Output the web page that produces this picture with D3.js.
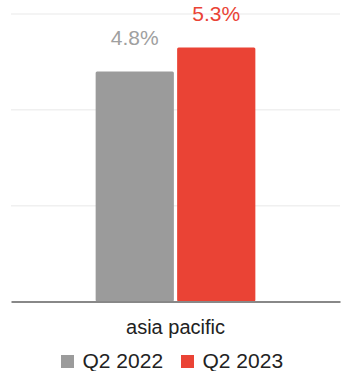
<!DOCTYPE html>
<html><head><meta charset="utf-8">
<script src="https://cdn.jsdelivr.net/npm/d3@7"></script>
<style>body{margin:0;background:#fff}svg{display:block;font-family:"Liberation Sans",Arial,sans-serif}</style>
</head><body><svg id="c" width="342" height="371"></svg>
<script>
const categories = ["asia pacific"];
const series = ["Q2 2022", "Q2 2023"];
const values2022 = [4.8];
const values2023 = [5.3];
const colors = ["#9b9b9b", "#ea4335"];
const labelColors = ["#a0a0a0", "#ea4335"];
const yTicks = [0, 2, 4, 6];

const svg = d3.select("#c");
const m = {l: 11, r: 2, t: 14, b: 70};
const W = 342, H = 371;
const x0 = d3.scaleBand().domain(categories).range([m.l, W - m.r]).paddingInner(0).paddingOuter(0.53);
const x1 = d3.scaleBand().domain(series).range([0, x0.bandwidth()]).paddingInner(0.04);
const y = d3.scaleLinear().domain([0, 6]).range([301.5, m.t]);

const g = svg.append("g");
g.selectAll("line.grid").data(yTicks.filter(d => d > 0)).join("line")
  .attr("x1", m.l).attr("x2", W - m.r)
  .attr("y1", d => y(d)).attr("y2", d => y(d))
  .attr("stroke", "#f0f0f0").attr("stroke-width", 1.5);

const data = categories.flatMap((c, i) => [
  {c, s: series[0], v: values2022[i], k: 0},
  {c, s: series[1], v: values2023[i], k: 1}
]);
g.selectAll("rect.bar").data(data).join("rect")
  .attr("x", d => x0(d.c) + x1(d.s))
  .attr("width", x1.bandwidth())
  .attr("y", d => y(d.v))
  .attr("height", d => y(0) - y(d.v))
  .attr("rx", 1.5)
  .attr("fill", d => colors[d.k]);

g.selectAll("text.lab").data(data).join("text")
  .attr("x", d => x0(d.c) + x1(d.s) + x1.bandwidth() / 2)
  .attr("y", d => y(d.v) - 27)
  .attr("text-anchor", "middle")
  .attr("font-size", 21)
  .attr("fill", d => labelColors[d.k])
  .text(d => d.v.toFixed(1) + "%");

// baseline axis
const xAxis = d3.axisBottom(x0).tickSize(0).tickPadding(0);
const ax = svg.append("g").attr("transform", `translate(0,${y(0)})`).call(xAxis);
ax.select(".domain").attr("stroke", "#888").attr("stroke-width", 2);
ax.selectAll("text").attr("font-size", 20).attr("fill", "#222")
  .attr("font-family", "Liberation Sans, Arial, sans-serif")
  .attr("dy", null).attr("y", 32);

// legend
const leg = svg.append("g").attr("transform", "translate(0,368)");
const legX = [61, 181];
series.forEach((s, i) => {
  leg.append("rect").attr("x", legX[i]).attr("y", -13).attr("width", 13).attr("height", 13).attr("fill", colors[i]);
  leg.append("text").attr("x", legX[i] + 21.5).attr("y", 0)
    .attr("font-size", 21).attr("fill", "#222").text(s);
});
</script></body></html>
